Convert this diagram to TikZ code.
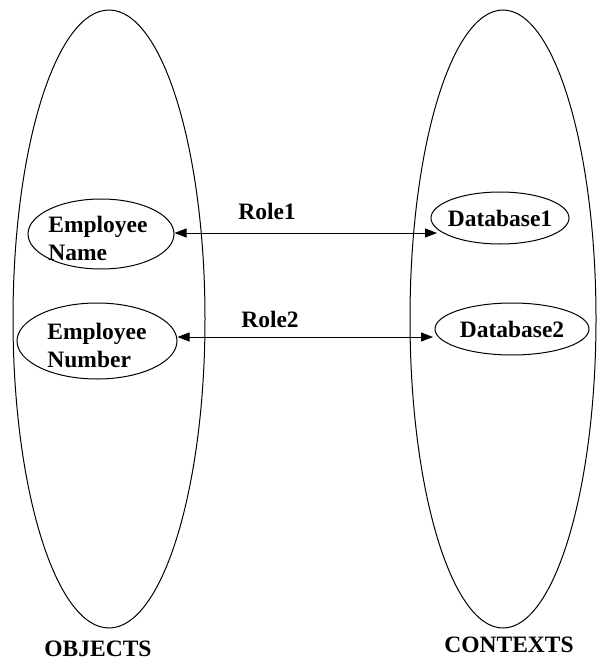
\documentclass[tikz,border=0pt]{standalone}
\usepackage{fontspec}
\setmainfont{Liberation Serif}
\usetikzlibrary{shapes.geometric,arrows.meta}
\begin{document}
\begin{tikzpicture}[x=1pt,y=-1pt,
  lbl/.style={font=\fontsize{23.5}{28}\selectfont\bfseries, inner sep=0pt, align=left},
  oval/.style={draw, ellipse, line width=1pt, inner sep=0pt},
  link/.style={line width=1pt, {Triangle[length=12pt,width=9pt]}-{Triangle[length=12pt,width=9pt]}}]
\useasboundingbox (0,0) rectangle (597,661);
\node[oval, minimum width=192pt, minimum height=618pt] (objects) at (109,319) {};
\node[oval, minimum width=186pt, minimum height=618pt] (contexts) at (503,319) {};
\node[oval, minimum width=146pt, minimum height=70pt] (name) at (101,234) {};
\node[lbl] at (98,238) {Employee\\Name};
\node[oval, minimum width=160pt, minimum height=76pt] (number) at (97,341) {};
\node[lbl] at (97,345) {Employee\\Number};
\node[oval, minimum width=138pt, minimum height=52pt] (db1) at (500,218) {};
\node[lbl] at (500,218) {Database1};
\node[oval, minimum width=154pt, minimum height=52pt] (db2) at (512,329) {};
\node[lbl] at (512,329) {Database2};
\coordinate (r1) at (437,233);
\coordinate (r2) at (433,337);
\draw[link] (name.east |- r1) -- (r1);
\draw[link] (number.east |- r2) -- (r2);
\node[lbl] (role1) at (267,211) {Role1};
\node[lbl] (role2) at (270,319) {Role2};
\node[lbl] (objlabel) at (98,649) {OBJECTS};
\node[lbl] (ctxlabel) at (509,645) {CONTEXTS};
\end{tikzpicture}
\end{document}
